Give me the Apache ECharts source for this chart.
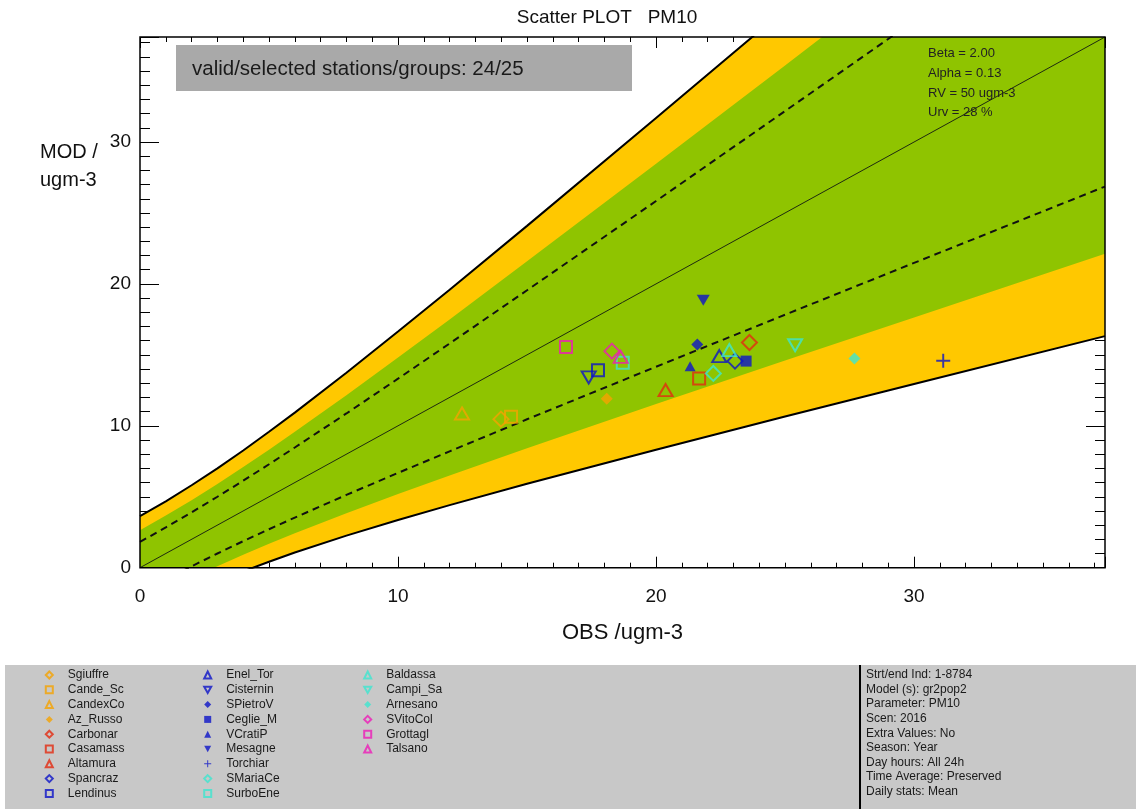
<!DOCTYPE html>
<html>
<head>
<meta charset="utf-8">
<script src="https://cdn.jsdelivr.net/npm/echarts@6/dist/echarts.min.js"></script>
<style>
  html, body { margin: 0; padding: 0; background: #ffffff; }
  #chart { width: 1136px; height: 809px; }
</style>
</head>
<body>
<div id="chart"></div>
<script>
// ---- axis extent (both axes share the same range, ugm-3) ----
const axisMax = 37.4;
const axisStep = 10;

// ---- stations (legend order) ----
const stations = [
  'Sgiuffre', 'Cande_Sc', 'CandexCo', 'Az_Russo', 'Carbonar', 'Casamass', 'Altamura', 'Spancraz', 'Lendinus',
  'Enel_Tor', 'Cisternin', 'SPietroV', 'Ceglie_M', 'VCratiP', 'Mesagne', 'Torchiar', 'SMariaCe', 'SurboEne',
  'Baldassa', 'Campi_Sa', 'Arnesano', 'SVitoCol', 'Grottagl', 'Talsano'
];
// observed annual means (ugm-3)
const obsValues = [
  13.99, 14.38, 12.48, 18.09, 23.62, 21.67, 20.37, 23.06, 17.75,
  22.45, 17.39, 21.60, 23.49, 21.32, 21.83, 31.13, 22.22, 18.71,
  22.84, 25.39, 27.69, 18.29, 16.51, 18.63
];
// modelled annual means (ugm-3)
const modValues = [
  10.47, 10.63, 10.87, 11.90, 15.87, 13.34, 12.51, 14.56, 13.92,
  14.91, 13.41, 15.73, 14.56, 14.20, 18.85, 14.58, 13.69, 14.44,
  15.33, 15.68, 14.75, 15.26, 15.56, 14.86
];

// ---- model quality objective envelope, tabulated along OBS ----
const bandObs    = [0, 1, 2, 3, 4, 5, 6, 8, 10, 12, 15, 20, 25, 30, 37.4];
const upperOuter = [3.64, 4.68, 5.81, 7.00, 8.26, 9.58, 10.93, 13.74, 16.64, 19.59, 24.09, 31.69, 39.35, 47.05, 58.48];
const upperGreen = [2.64, 3.67, 4.76, 5.90, 7.09, 8.32, 9.58, 12.16, 14.81, 17.50, 21.59, 28.47, 35.40, 42.36, 52.68];
const upperDash  = [1.82, 2.84, 3.90, 5.00, 6.13, 7.29, 8.47, 10.87, 13.32, 15.80, 19.55, 25.84, 32.18, 38.53, 47.94];
const lowerDash  = [-1.82, -0.84, 0.10, 1.00, 1.87, 2.71, 3.53, 5.13, 6.68, 8.20, 10.46, 14.16, 17.83, 21.48, 26.86];
const lowerGreen = [-2.64, -1.67, -0.76, 0.10, 0.91, 1.68, 2.42, 3.84, 5.19, 6.50, 8.41, 11.53, 14.60, 17.64, 22.12];
const lowerOuter = [-3.64, -2.68, -1.81, -1.00, -0.26, 0.42, 1.07, 2.26, 3.36, 4.41, 5.91, 8.31, 10.65, 12.95, 16.32];

// ---- texts ----
const chartTitle = 'Scatter PLOT   PM10';
const stationCount = 'valid/selected stations/groups: 24/25';
const qualityLines = ['Beta = 2.00', 'Alpha = 0.13', 'RV = 50 ugm-3', 'Urv = 28 %'];
const infoLines = [
  'Strt/end Ind: 1-8784', 'Model (s): gr2pop2', 'Parameter: PM10', 'Scen: 2016', 'Extra Values: No',
  'Season: Year', 'Day hours: All 24h', 'Time Average: Preserved', 'Daily stats: Mean'
];
const xTitle = 'OBS /ugm-3';
const yTitle = 'MOD /\nugm-3';

// ---- marker styles per station ----
const C = { orange: '#f5a300', red: '#e32a10', blue: '#0c14c8', cyan: '#3de6d0', magenta: '#ee1cb8' };
const SHAPE = {
  diamond: 'diamond',
  square: 'rect',
  triangle: 'triangle',
  down: 'path://M0,0L10,0L5,9Z',
  plus: 'path://M4.3,0H5.7V4.3H10V5.7H5.7V10H4.3V5.7H0V4.3H4.3Z'
};
const SIZE = {
  diamond: [15, 15], diamondF: [12, 12], square: [12, 12], squareF: [11, 11],
  triangle: [14, 12], triangleF: [11, 10], down: [14, 12], downF: [13, 11], plus: [14, 14]
};
const markerStyle = [
  ['diamond', 'orange', false], ['square', 'orange', false], ['triangle', 'orange', false], ['diamond', 'orange', true],
  ['diamond', 'red', false], ['square', 'red', false], ['triangle', 'red', false],
  ['diamond', 'blue', false], ['square', 'blue', false], ['triangle', 'blue', false], ['down', 'blue', false],
  ['diamond', 'blue', true], ['square', 'blue', true], ['triangle', 'blue', true], ['down', 'blue', true],
  ['plus', 'blue', true],
  ['diamond', 'cyan', false], ['square', 'cyan', false], ['triangle', 'cyan', false], ['down', 'cyan', false],
  ['diamond', 'cyan', true],
  ['diamond', 'magenta', false], ['square', 'magenta', false], ['triangle', 'magenta', false]
];

const FONT = "'Liberation Sans', Arial, sans-serif";
const GREEN = '#8fc400';
const YELLOW = '#ffc800';

function bandSeries(lo, hi, fill, z) {
  return {
    type: 'custom', silent: true, clip: true, z: z,
    data: [[bandObs[0], lo[0]]],
    renderItem: function (params, api) {
      const pts = [];
      for (let i = 0; i < bandObs.length; i++) pts.push(api.coord([bandObs[i], hi[i]]));
      for (let i = bandObs.length - 1; i >= 0; i--) pts.push(api.coord([bandObs[i], lo[i]]));
      return { type: 'polygon', shape: { points: pts }, style: { fill: fill } };
    }
  };
}

function curveSeries(vals, lineStyle) {
  return {
    type: 'line', silent: true, clip: true, z: 3, symbol: 'none', showSymbol: false,
    data: bandObs.map(function (o, i) { return [o, vals[i]]; }),
    lineStyle: lineStyle
  };
}

const series = [
  bandSeries(lowerOuter, upperOuter, YELLOW, 1),
  bandSeries(lowerGreen, upperGreen, GREEN, 2),
  curveSeries(upperOuter, { color: '#000', width: 2 }),
  curveSeries(lowerOuter, { color: '#000', width: 2 }),
  curveSeries(upperDash, { color: '#111', width: 2, type: [7, 5] }),
  curveSeries(lowerDash, { color: '#111', width: 2, type: [7, 5] }),
  {
    type: 'line', silent: true, clip: true, z: 3, symbol: 'none', showSymbol: false,
    data: [[0, 0], [axisMax, axisMax]],
    lineStyle: { color: '#1e2a10', width: 1 }
  }
];

stations.forEach(function (name, i) {
  const st = markerStyle[i];
  const shape = st[0], col = C[st[1]], filled = st[2];
  let sizeKey = shape;
  if (filled && SIZE[shape + 'F']) sizeKey = shape + 'F';
  series.push({
    type: 'scatter', name: name, z: 4,
    data: [[obsValues[i], modValues[i]]],
    symbol: SHAPE[shape],
    symbolSize: SIZE[sizeKey],
    itemStyle: filled
      ? { color: col, borderColor: col, borderWidth: 0 }
      : { color: 'rgba(0,0,0,0)', borderColor: col, borderWidth: 2 }
  });
});

function axisBase(extra) {
  return Object.assign({
    type: 'value', min: 0, max: axisMax, interval: axisStep,
    splitLine: { show: false },
    axisLine: { show: false, onZero: false },
    z: 0
  }, extra);
}

const tickColor = { color: '#000', width: 1 };

// legend entries: hollow markers get a thick ring, filled ones stay small
function legendColumn(from, to, left) {
  const items = [];
  for (let i = from; i < to; i++) {
    const filled = markerStyle[i][2];
    items.push({ name: stations[i], itemStyle: { borderWidth: filled ? 0 : 2 } });
  }
  return {
    data: items, orient: 'vertical', left: left, top: 667.6, padding: 0,
    itemWidth: 7, itemHeight: 7, itemGap: 0, selectedMode: false,
    textStyle: { fontFamily: FONT, fontSize: 12, color: '#1a1a1a', lineHeight: 14.8, padding: [0, 0, 0, 10] }
  };
}

const option = {
  animation: false,
  backgroundColor: '#ffffff',
  grid: {
    left: 140, right: 31, top: 37, bottom: 241.3,
    show: true, z: 10, borderColor: '#000', borderWidth: 1.5, backgroundColor: 'rgba(0,0,0,0)'
  },
  xAxis: [
    axisBase({
      position: 'bottom',
      axisTick: { show: true, inside: true, length: 11, lineStyle: tickColor },
      minorTick: { show: true, splitNumber: 10, length: 5, lineStyle: tickColor },
      axisLabel: { show: true, margin: 20, fontSize: 19, fontFamily: FONT, color: '#111', showMaxLabel: false },
      name: xTitle, nameLocation: 'middle', nameGap: 54,
      nameTextStyle: { fontSize: 22, fontFamily: FONT, color: '#111' }
    }),
    axisBase({
      position: 'top',
      axisTick: { show: true, inside: true, length: 11, lineStyle: tickColor },
      minorTick: { show: true, splitNumber: 10, length: 5, lineStyle: tickColor },
      axisLabel: { show: false }
    })
  ],
  yAxis: [
    axisBase({
      position: 'left',
      axisTick: { show: true, inside: true, length: 19, lineStyle: tickColor },
      minorTick: { show: true, splitNumber: 10, length: 10, lineStyle: tickColor },
      axisLabel: { show: true, margin: 9, fontSize: 19, fontFamily: FONT, color: '#111', showMaxLabel: false }
    }),
    axisBase({
      position: 'right',
      axisTick: { show: true, inside: true, length: 19, lineStyle: tickColor },
      minorTick: { show: true, splitNumber: 10, length: 10, lineStyle: tickColor },
      axisLabel: { show: false }
    })
  ],
  legend: [
    legendColumn(0, 9, 44.8),
    legendColumn(9, 18, 203.2),
    legendColumn(18, stations.length, 363.2)
  ],
  graphic: [
    { type: 'text', z: 20, x: 607, y: 18,
      style: { text: chartTitle, fontFamily: FONT, fontSize: 19, fill: '#111', textAlign: 'center', textVerticalAlign: 'middle' } },
    { type: 'rect', z: 20, shape: { x: 176, y: 45, width: 456, height: 46 }, style: { fill: '#a9a9a9' } },
    { type: 'text', z: 21, x: 192, y: 69,
      style: { text: stationCount, fontFamily: FONT, fontSize: 20.5, fill: '#1a1a1a', textVerticalAlign: 'middle' } },
    { type: 'text', z: 21, x: 928, y: 44,
      style: { text: qualityLines.join('\n'), fontFamily: FONT, fontSize: 13, lineHeight: 19.6, fill: '#222' } },
    { type: 'text', z: 20, x: 40, y: 138,
      style: { text: yTitle, fontFamily: FONT, fontSize: 20, lineHeight: 28, fill: '#111' } },
    { type: 'rect', z: -1, shape: { x: 5, y: 665, width: 1131, height: 144 }, style: { fill: '#c8c8c8' } },
    { type: 'line', z: 20, shape: { x1: 860, y1: 665, x2: 860, y2: 809 }, style: { stroke: '#000', lineWidth: 2 } },
    { type: 'text', z: 20, x: 866, y: 667.6,
      style: { text: infoLines.join('\n'), fontFamily: FONT, fontSize: 12, lineHeight: 14.6, fill: '#1a1a1a' } }
  ],
  series: series
};

const chart = echarts.init(document.getElementById('chart'), null, { renderer: 'canvas' });
chart.setOption(option);
</script>
</body>
</html>
